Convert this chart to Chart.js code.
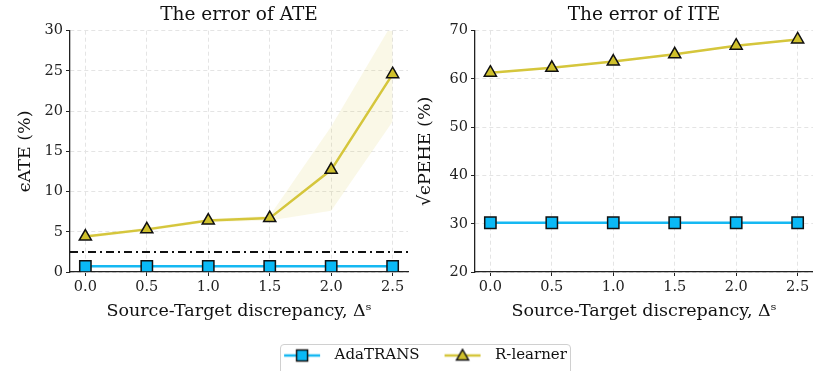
<!DOCTYPE html>
<html>
<head>
<meta charset="utf-8">
<script src="https://cdn.jsdelivr.net/npm/chart.js@4/dist/chart.umd.min.js"></script>
<style>
  body { margin: 0; background: #fff; }
  #wrap { position: relative; width: 813px; height: 371px; overflow: hidden; }
  #left { position: absolute; left: 0; top: 0; }
  #right { position: absolute; left: 410px; top: 0; }
  #legBox { position: absolute; left: 280px; top: 344px; width: 289px; height: 34px;
            border: 1px solid #d0d0d0; border-radius: 4px; }
  #legend { position: absolute; left: -56px; top: -21px; }
</style>
</head>
<body>
<div id="wrap">
  <canvas id="left" width="410" height="330"></canvas>
  <canvas id="right" width="403" height="330"></canvas>
  <div id="legBox"><canvas id="legend" width="400" height="200"></canvas></div>
</div>
<script>
const xs = [0.0, 0.5, 1.0, 1.5, 2.0, 2.5];

// left: error of ATE
const ateAda = [0.7, 0.7, 0.7, 0.7, 0.7, 0.7];
const ateR = [4.4, 5.3, 6.4, 6.7, 12.7, 24.6];
const ateRUpper = [4.6, 5.5, 6.6, 7.0, 18.1, 31.0];
const ateRLower = [4.2, 5.1, 6.2, 6.4, 7.6, 18.7];
const ateBaseline = 2.5;

// right: error of ITE
const iteAda = [30.2, 30.2, 30.2, 30.2, 30.2, 30.2];
const iteR = [61.3, 62.3, 63.6, 65.1, 66.9, 68.2];
const iteRUpper = [61.5, 62.5, 63.8, 65.3, 67.1, 68.4];
const iteRLower = [61.1, 62.1, 63.4, 64.9, 66.7, 68.0];

const seriesNames = ["AdaTRANS", "R-learner"];
const ateTicks = [0, 5, 10, 15, 20, 25, 30];
const iteTicks = [20, 30, 40, 50, 60, 70];

const FONT = "'DejaVu Serif', serif";
const BLUE = "#15b8f2", BLUE_M = "#0ab9f6";
const OLIVE = "#d5c63c", OLIVE_M = "#cfc02c";

const pts = (vals) => vals.map((v, i) => ({ x: xs[i], y: vals[i] }));

function makeDatasets(ada, r, up, lo, baseline) {
  const ds = [
    {
      label: seriesNames[1], data: pts(r), borderColor: OLIVE, borderWidth: 2.5,
      pointStyle: "triangle", pointRadius: 7, pointBackgroundColor: OLIVE_M,
      pointBorderColor: "#111", pointBorderWidth: 1.5, fill: false,
    },
    {
      label: seriesNames[0], data: pts(ada), borderColor: BLUE, borderWidth: 2.5,
      pointStyle: "rect", pointRadius: 8, pointBackgroundColor: BLUE_M,
      pointBorderColor: "#111", pointBorderWidth: 1.5, fill: false,
    },
  ];
  if (baseline !== null) {
    ds.push({
      label: "baseline", data: [{ x: -0.125, y: baseline }, { x: 2.625, y: baseline }],
      borderColor: "#111", borderWidth: 2, borderDash: [8, 4, 2, 4],
      pointRadius: 0, fill: false,
    });
  }
  ds.push(
    { label: "up", data: pts(up), borderWidth: 0, pointRadius: 0, fill: false },
    { label: "lo", data: pts(lo), borderWidth: 0, pointRadius: 0, fill: "-1",
      backgroundColor: "rgba(213, 198, 60, 0.12)" }
  );
  return ds;
}

function makeChart(canvas, title, yTitle, ymin, ymax, yTicks, yWidth, yTitlePad, padRight, datasets) {
  return new Chart(canvas, {
    type: "line",
    data: { datasets: datasets },
    options: {
      responsive: false,
      animation: false,
      layout: { autoPadding: false, padding: { left: 0, right: padRight, top: 0, bottom: 0 } },
      plugins: {
        legend: { display: false },
        tooltip: { enabled: false },
        title: {
          display: true, text: title, color: "#111", fullSize: false,
          font: { family: FONT, size: 18.5, weight: "normal" },
          padding: { top: 4, bottom: 4.5 },
        },
      },
      scales: {
        x: {
          type: "linear", min: -0.125, max: 2.625,
          afterBuildTicks: (s) => { s.ticks = xs.map((v) => ({ value: v })); },
          afterFit: (s) => { s.height = 58; s.paddingLeft = 0; s.paddingRight = 0; },
          ticks: { color: "#222", font: { family: FONT, size: 14.5 }, padding: 3,
                   callback: (v) => v.toFixed(1) },
          grid: { color: "#e4e4e4", tickColor: "#222", tickLength: 4, tickBorderDash: [] },
          border: { display: true, color: "#222", width: 1.3, dash: [4, 3] },
          title: { display: true, text: "Source-Target discrepancy, Δˢ", color: "#111",
                   font: { family: FONT, size: 17.5 }, padding: { top: 0, bottom: 8.5 } },
        },
        y: {
          type: "linear", min: ymin, max: ymax,
          afterBuildTicks: (s) => { s.ticks = yTicks.map((v) => ({ value: v })); },
          afterFit: (s) => { s.width = yWidth; s.paddingTop = 0; s.paddingBottom = 0; },
          ticks: { color: "#222", font: { family: FONT, size: 14.5 }, padding: 3 },
          grid: { color: "#e4e4e4", tickColor: "#222", tickLength: 4, tickBorderDash: [] },
          border: { display: true, color: "#222", width: 1.3, dash: [4, 3] },
          title: { display: true, text: yTitle, color: "#111",
                   font: { family: FONT, size: 17.5 }, padding: { top: yTitlePad, bottom: 0 } },
        },
      },
    },
  });
}

makeChart(document.getElementById("left"), "The error of ATE", "ϵATE (%)", 0, 30, ateTicks, 70, 14.5, 2,
  makeDatasets(ateAda, ateR, ateRUpper, ateRLower, ateBaseline));
makeChart(document.getElementById("right"), "The error of ITE", "√ϵPEHE (%)", 20, 70, iteTicks, 65, 4.5, 0,
  makeDatasets(iteAda, iteR, iteRUpper, iteRLower, null));

// legend samples: line with marker
function sample(color, fill, shape) {
  const c = document.createElement("canvas");
  c.width = 44; c.height = 16;
  const g = c.getContext("2d");
  g.strokeStyle = color; g.lineWidth = 2.5;
  g.beginPath(); g.moveTo(1, 8); g.lineTo(37, 8); g.stroke();
  g.fillStyle = fill; g.strokeStyle = "#111"; g.lineWidth = 1.5;
  g.beginPath();
  if (shape === "rect") g.rect(13.5, 2.5, 11, 11);
  else { g.moveTo(19, 2); g.lineTo(25, 12.5); g.lineTo(13, 12.5); g.closePath(); }
  g.fill(); g.stroke();
  return c;
}

new Chart(document.getElementById("legend"), {
  type: "line",
  data: {
    datasets: [
      { label: seriesNames[0], data: [], borderColor: BLUE, pointStyle: sample(BLUE, BLUE_M, "rect") },
      { label: seriesNames[1], data: [], borderColor: OLIVE, pointStyle: sample(OLIVE, OLIVE_M, "tri") },
    ],
  },
  options: {
    responsive: false,
    animation: false,
    layout: { padding: 0 },
    scales: { x: { display: false }, y: { display: false } },
    plugins: {
      tooltip: { enabled: false },
      legend: {
        display: true, position: "top",
        labels: {
          usePointStyle: true, pointStyleWidth: 44, padding: 24,
          color: "#111", font: { family: FONT, size: 15 },
        },
      },
    },
  },
});
</script>
</body>
</html>
